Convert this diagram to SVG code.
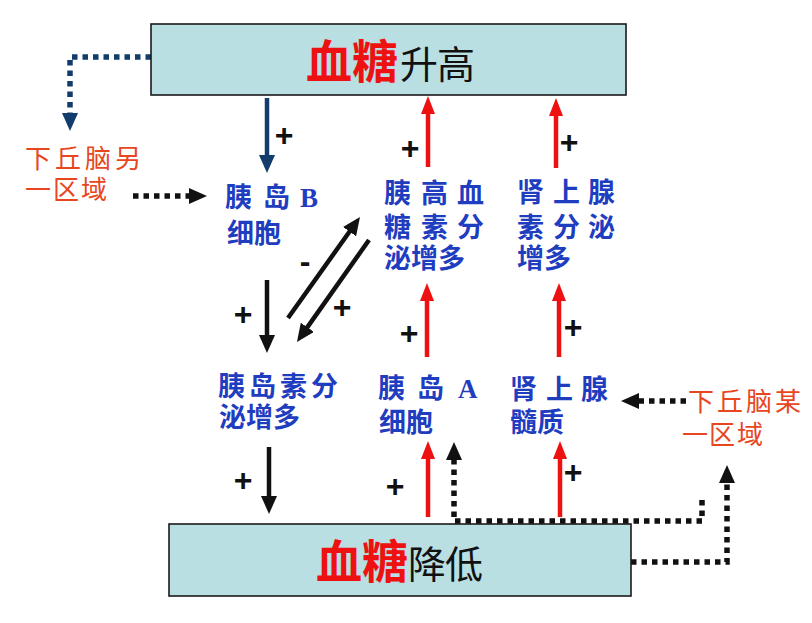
<svg xmlns="http://www.w3.org/2000/svg" width="812" height="623" viewBox="0 0 812 623">
<style>
.box{fill:#b9dfe3;stroke:#1a1a1a;stroke-width:1.6}
.big{font-family:"Noto Sans CJK SC",sans-serif;font-weight:bold;fill:#ee1111;font-size:46px}
.mid{font-family:"Noto Sans CJK SC",sans-serif;fill:#111;font-size:38px}
.lbl{font-family:"Liberation Sans","Noto Sans CJK SC",sans-serif;fill:#1f3dbf;font-size:27px;font-weight:bold}
.lat{font-family:"Liberation Serif",serif;font-weight:bold}
.org{font-family:"Liberation Sans","Noto Sans CJK SC",sans-serif;fill:#e8461e;font-size:26px}
.plus{font-family:"Liberation Sans",sans-serif;font-weight:bold;font-size:32px;fill:#111;text-anchor:middle}
.red{stroke:#ee1111;stroke-width:4.5;fill:none;marker-end:url(#ar)}
.blk{stroke:#111;stroke-width:4.5;fill:none;marker-end:url(#ab)}
.nav{stroke:#123c6b;stroke-width:4.5;fill:none;marker-end:url(#an)}
.dot{stroke:#111;stroke-width:5.5;stroke-dasharray:5.5 5;fill:none;marker-end:url(#ab)}
.dotn{stroke:#123c6b;stroke-width:5.5;stroke-dasharray:5.5 5;fill:none;marker-end:url(#an)}
</style>
<defs>
<marker id="ar" markerUnits="userSpaceOnUse" viewBox="0 0 18 14" markerWidth="18" markerHeight="14" refX="2" refY="7" orient="auto"><path d="M0,0 L18,7 L0,14 z" fill="#ee1111"/></marker>
<marker id="ab" markerUnits="userSpaceOnUse" viewBox="0 0 18 16" markerWidth="18" markerHeight="16" refX="2" refY="8" orient="auto"><path d="M0,0 L18,8 L0,16 z" fill="#111"/></marker>
<marker id="an" markerUnits="userSpaceOnUse" viewBox="0 0 18 16" markerWidth="18" markerHeight="16" refX="2" refY="8" orient="auto"><path d="M0,0 L18,8 L0,16 z" fill="#123c6b"/></marker>
</defs>

<g id="connectors">
<path class="dotn" d="M151,57 H70 V115"/>
<path class="dot" d="M133,196 H191"/>
<path class="dot" d="M686,401 H637"/>
<path class="dot" d="M702,500 V521 H454 V458"/>
<path class="dot" d="M631,562 H727 V481"/>
<path class="nav" d="M267,98 V157"/>
<path class="red" d="M428,167 V112"/>
<path class="red" d="M556,168 V114"/>
<path class="blk" d="M267,280 V337"/>
<path class="blk" d="M288,318 L350.7,230"/>
<path class="blk" d="M369,240 L306.2,328.9"/>
<path class="red" d="M427,357 V299"/>
<path class="red" d="M559,357 V299"/>
<path class="blk" d="M269,447 V498"/>
<path class="red" d="M428,517 V457"/>
<path class="red" d="M560,517 V457"/>
<text class="plus" x="284" y="146">+</text>
<text class="plus" x="410" y="159">+</text>
<text class="plus" x="569" y="153">+</text>
<text class="plus" x="243" y="325">+</text>
<text class="plus" x="342" y="318">+</text>
<text class="plus" x="409" y="344">+</text>
<text class="plus" x="573" y="338">+</text>
<text class="plus" x="243" y="491">+</text>
<text class="plus" x="395" y="497">+</text>
<text class="plus" x="573" y="483">+</text>
<text class="plus" x="305" y="272">-</text>
</g>

<g id="bg-high">
<rect class="box" x="151" y="24" width="475" height="71"/>
<text y="78"><tspan class="big" x="306 352">血糖</tspan><tspan class="mid" x="400 437">升高</tspan></text>
</g>

<g id="bg-low">
<rect class="box" x="169" y="524" width="462" height="72"/>
<text y="578"><tspan class="big" x="316 362">血糖</tspan><tspan class="mid" x="408 445">降低</tspan></text>
</g>

<g id="hypo-other">
<text class="org" x="25 55 85 115" y="168">下丘脑另</text>
<text class="org" x="25 53 81" y="199">一区域</text>
</g>

<g id="hypo-some">
<text class="org" x="688 717 746 775" y="411">下丘脑某</text>
<text class="org" x="682 709 737" y="444">一区域</text>
</g>

<g id="beta-cell">
<text class="lbl" y="207"><tspan x="225">胰</tspan><tspan x="252"> </tspan><tspan x="263">岛</tspan><tspan x="290"> </tspan><tspan class="lat" x="300">B</tspan></text>
<text class="lbl" x="227 254" y="243">细胞</text>
</g>

<g id="glucagon">
<text class="lbl" x="384 411 421 448 457" y="203">胰 高 血</text>
<text class="lbl" x="384 411 421 448 457" y="237">糖 素 分</text>
<text class="lbl" x="384 411 438" y="268">泌增多</text>
</g>

<g id="adrenaline">
<text class="lbl" x="517 544 553 580 588" y="202">肾 上 腺</text>
<text class="lbl" x="517 544 553 580 588" y="237">素 分 泌</text>
<text class="lbl" x="517 544" y="268">增多</text>
</g>

<g id="insulin">
<text class="lbl" x="218 249 280 311" y="396">胰岛素分</text>
<text class="lbl" x="219 246 273" y="427">泌增多</text>
</g>

<g id="alpha-cell">
<text class="lbl" y="398"><tspan x="378">胰</tspan><tspan x="405"> </tspan><tspan x="417">岛</tspan><tspan x="444"> </tspan><tspan class="lat" x="458">A</tspan></text>
<text class="lbl" x="379 406" y="432">细胞</text>
</g>

<g id="adrenal-medulla">
<text class="lbl" x="510 537 546 573 581" y="399">肾 上 腺</text>
<text class="lbl" x="510 537" y="432">髓质</text>
</g>
</svg>
